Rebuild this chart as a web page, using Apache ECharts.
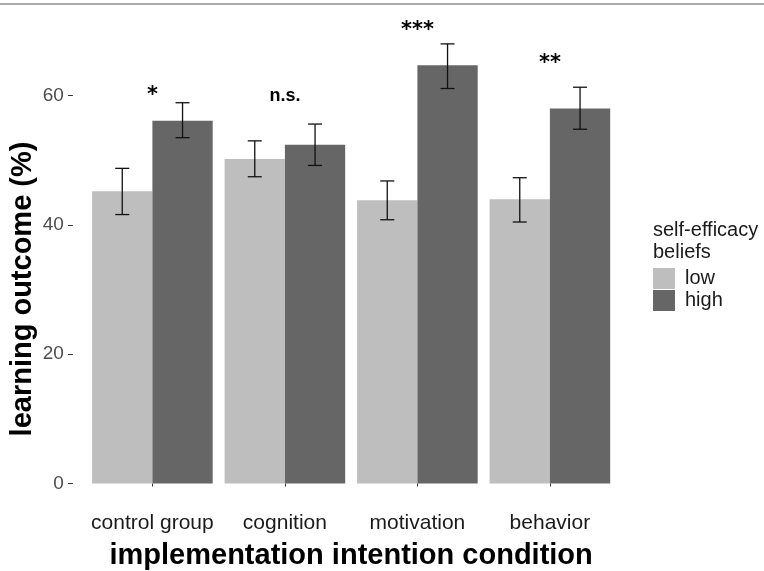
<!DOCTYPE html>
<html>
<head>
<meta charset="utf-8">
<script src="https://cdn.jsdelivr.net/npm/echarts@6/dist/echarts.min.js"></script>
<style>html,body{margin:0;padding:0;background:#fff;}#c{width:764px;height:571px;}</style>
</head>
<body>
<div id="c"></div>
<script>
const categories = ['control group', 'cognition', 'motivation', 'behavior'];
const seriesNames = ['low', 'high'];
const lowValues = [45.2, 50.2, 43.8, 43.95];
const highValues = [56.1, 52.4, 64.7, 58.0];
const lowErrLower = [41.6, 47.45, 40.8, 40.45];
const lowErrUpper = [48.75, 53.0, 46.8, 47.3];
const highErrLower = [53.5, 49.2, 61.1, 54.8];
const highErrUpper = [58.9, 55.6, 68.0, 61.3];
const sigLabels = ['*', 'n.s.', '***', '**'];
const sigY = [60, 60, 70, 65];
const yTickValues = [0, 20, 40, 60];

const colors = ['#bebebe', '#666666'];
const barGapRatio = 0.09;

function errData(lo, hi) {
  return categories.map((c, i) => [i, lo[i], hi[i]]);
}
function errSeries(name, lo, hi, side) {
  return {
    type: 'custom',
    name: name + ' err',
    data: errData(lo, hi),
    encode: { x: 0, y: [1, 2] },
    z: 5,
    silent: true,
    legendHoverLink: false,
    renderItem: function (params, api) {
      const band = api.size([1, 0])[0];
      const bw = band * (1 - barGapRatio) / 2;
      const top = api.coord([api.value(0), api.value(2)]);
      const bot = api.coord([api.value(0), api.value(1)]);
      const x = top[0] + side * bw / 2;
      const cap = 7;
      const st = { stroke: '#111', lineWidth: 1.3 };
      return {
        type: 'group',
        children: [
          { type: 'line', shape: { x1: x, y1: top[1], x2: x, y2: bot[1] }, style: st },
          { type: 'line', shape: { x1: x - cap, y1: top[1], x2: x + cap, y2: top[1] }, style: st },
          { type: 'line', shape: { x1: x - cap, y1: bot[1], x2: x + cap, y2: bot[1] }, style: st }
        ]
      };
    }
  };
}

const chart = echarts.init(document.getElementById('c'), null, { renderer: 'canvas' });
chart.setOption({
  backgroundColor: '#ffffff',
  animation: false,
  title: {
    text: 'self-efficacy\nbeliefs',
    left: 653,
    top: 219,
    padding: 0,
    textStyle: { fontFamily: 'Liberation Sans, Arial, sans-serif', fontSize: 20, fontWeight: 'normal', color: '#1a1a1a', lineHeight: 22 }
  },
  legend: {
    data: seriesNames,
    orient: 'vertical',
    left: 653,
    top: 268,
    padding: 0,
    itemWidth: 22,
    itemHeight: 21,
    itemGap: 1,
    icon: 'rect',
    selectedMode: false,
    textStyle: { fontFamily: 'Liberation Sans, Arial, sans-serif', fontSize: 20, color: '#1a1a1a', padding: [0, 0, 0, 5] }
  },
  graphic: [
    { type: 'rect', shape: { x: 0, y: 3, width: 764, height: 2 }, style: { fill: '#aaaaaa' }, silent: true }
  ],
  grid: {
    left: 86.15,
    right: 147.85,
    top: 54.5,
    bottom: 87.5,
    containLabel: false,
    outerBoundsMode: 'none'
  },
  xAxis: {
    type: 'category',
    data: categories,
    offset: 21.5,
    axisLine: { show: false },
    axisTick: { show: true, alignWithLabel: true, interval: 0, length: 3, lineStyle: { color: '#333', width: 1 } },
    axisLabel: { interval: 0, fontFamily: 'Liberation Sans, Arial, sans-serif', fontSize: 21, color: '#1a1a1a', margin: 8 },
    splitLine: { show: false },
    name: 'implementation intention condition',
    nameLocation: 'middle',
    nameGap: 36,
    nameMoveOverlap: false,
    nameTextStyle: { fontFamily: 'Liberation Sans, Arial, sans-serif', fontSize: 29, fontWeight: 'bold', color: '#000' }
  },
  yAxis: {
    type: 'value',
    min: 0,
    max: 66.36,
    offset: 13.25,
    axisLine: { show: false },
    axisTick: { show: true, length: 5, customValues: yTickValues, lineStyle: { color: '#333', width: 1 } },
    axisLabel: { fontFamily: 'Liberation Sans, Arial, sans-serif', fontSize: 19, color: '#4d4d4d', margin: 9, customValues: yTickValues },
    splitLine: { show: false },
    name: 'learning outcome (%)',
    nameLocation: 'middle',
    nameGap: 35,
    nameRotate: 90,
    nameMoveOverlap: false,
    nameTextStyle: { fontFamily: 'Liberation Sans, Arial, sans-serif', fontSize: 29, fontWeight: 'bold', color: '#000', padding: [0, 40, 0, 0] }
  },
  series: [
    {
      type: 'bar', name: seriesNames[0], data: lowValues,
      itemStyle: { color: colors[0] },
      barGap: '0%', barCategoryGap: (barGapRatio * 100) + '%'
    },
    {
      type: 'bar', name: seriesNames[1], data: highValues,
      itemStyle: { color: colors[1] },
      barGap: '0%', barCategoryGap: (barGapRatio * 100) + '%'
    },
    errSeries('low', lowErrLower, lowErrUpper, -1),
    errSeries('high', highErrLower, highErrUpper, 1),
    {
      type: 'custom',
      name: 'significance',
      data: categories.map((c, i) => [i, sigY[i]]),
      encode: { x: 0, y: 1 },
      z: 6,
      silent: true,
      renderItem: function (params, api) {
        const p = api.coord([api.value(0), api.value(1)]);
        const t = sigLabels[params.dataIndex];
        const isStar = t.indexOf('*') >= 0;
        return {
          type: 'text',
          x: p[0], y: p[1],
          style: {
            text: t,
            align: 'center',
            verticalAlign: 'middle',
            fill: '#000',
            font: isStar ? 'bold 21px "DejaVu Sans", sans-serif' : 'bold 18px "Liberation Sans", Arial, sans-serif'
          }
        };
      }
    }
  ]
});
</script>
</body>
</html>
